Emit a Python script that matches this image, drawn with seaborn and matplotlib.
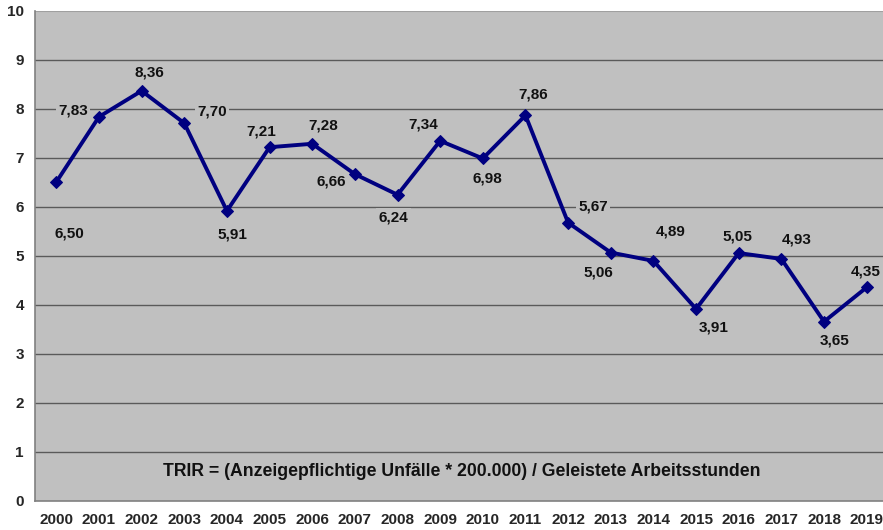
import matplotlib
matplotlib.use("Agg")
import matplotlib.pyplot as plt
import seaborn as sns
import pandas as pd

years = [str(y) for y in range(2000, 2020)]
trir = [6.50, 7.83, 8.36, 7.70, 5.91, 7.21, 7.28, 6.66, 6.24, 7.34,
        6.98, 7.86, 5.67, 5.06, 4.89, 3.91, 5.05, 4.93, 3.65, 4.35]
y_ticks = list(range(0, 11))
formula = "TRIR = (Anzeigepflichtige Unfälle * 200.000) / Geleistete Arbeitsstunden"

# label offsets in pixels (dx right, dy up)
label_offsets = [(13, -52), (-26, 6), (8, 18), (28, 12), (5, -24), (-8, 16),
                 (11, 18), (-24, -7), (-4, -23), (-17, 16), (5, -20), (8, 21),
                 (25, 16), (-12, -20), (17, 29), (18, -19), (-1, 17), (15, 19),
                 (11, -19), (-1, 16)]

sns.set_theme(style="white")
plt.rcParams['font.family'] = ['Liberation Sans', 'DejaVu Sans']

df = pd.DataFrame({"Jahr": years, "TRIR": trir})
df["x"] = range(len(years))

fig = plt.figure(figsize=(8.83, 5.30), dpi=100)
ax = fig.add_axes([35 / 883, (530 - 500.5) / 530, (888 - 35) / 883, 490 / 530])
ax.set_facecolor("#C0C0C0")

ax.set_ylim(0, 10)
ax.set_xlim(-0.5, len(years) - 0.5)
for v in y_ticks[1:-1]:
    ax.axhline(v, color="#5a5a5a", lw=1.0, zorder=1)
ax.axhline(10, color="#a0a0a0", lw=1.5, zorder=1)

sns.lineplot(data=df, x="x", y="TRIR", ax=ax, color="#000080", lw=2.8,
             marker="D", markersize=6.5, markeredgecolor="#000080", zorder=3)

for i, (v, off) in enumerate(zip(trir, label_offsets)):
    ax.annotate(f"{v:.2f}".replace(".", ","), xy=(i, v), xytext=off,
                textcoords="offset pixels", ha="center", va="center",
                fontsize=11, fontweight="bold", color="#111111", zorder=4,
                bbox=dict(boxstyle="square,pad=0.15", fc="#C0C0C0", ec="none"))

ax.text(9.5, 0.6, formula, ha="center", va="center",
        fontsize=12.7, fontweight="bold", color="#111111", zorder=4)

ax.set_yticks(y_ticks)
ax.set_yticklabels([str(t) for t in y_ticks], fontsize=11, fontweight="bold")
ax.set_xticks([i for i in range(len(years))])
ax.set_xticklabels(years, fontsize=11, fontweight="bold")
ax.set_xticks([i - 0.5 for i in range(len(years) + 1)], minor=True)
ax.tick_params(axis="x", which="major", length=0, pad=9)
ax.tick_params(axis="x", which="minor", length=5, width=1, color="#808080", direction="out")
ax.tick_params(axis="y", length=5, width=1, color="#808080", direction="out", pad=3)
ax.set_xlabel("")
ax.set_ylabel("")

for s in ["top", "right"]:
    ax.spines[s].set_visible(False)
ax.spines["left"].set_color("#808080")
ax.spines["bottom"].set_color("#808080")
ax.spines["left"].set_linewidth(1.2)
ax.spines["bottom"].set_linewidth(1.2)

fig.savefig("out.png", dpi=100, facecolor="white")
